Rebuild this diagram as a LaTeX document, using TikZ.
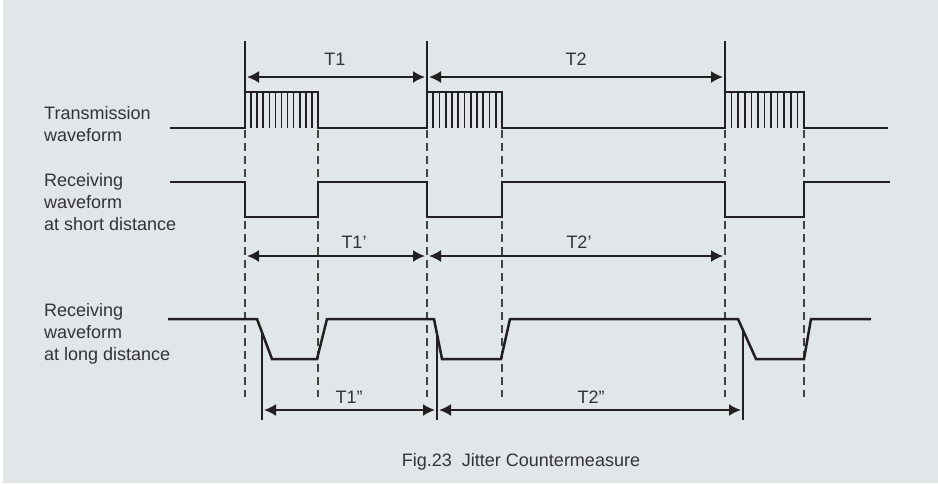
\documentclass[tikz,border=0pt]{standalone}
\usepackage{fontspec}
\setmainfont{Liberation Sans}
\usetikzlibrary{arrows.meta}
\definecolor{bgcol}{HTML}{E1E6E9}
\definecolor{ink}{HTML}{231F20}
\definecolor{txt}{HTML}{333333}
\begin{document}
\begin{tikzpicture}[x=1pt,y=-1pt]
\tikzset{>={Latex[length=12pt,width=12pt]}}
\tikzset{wave/.style={line width=2.5pt,color=ink,line join=miter},
  hatch/.style={line width=1.6pt,color=ink},
  guide/.style={line width=1.3pt,color=ink!85,dash pattern=on 8pt off 5pt},
  barline/.style={line width=2pt,color=ink},
  dimline/.style={<->,line width=2pt,color=ink,shorten <=2pt,shorten >=2pt},
  lbl/.style={text=txt,font=\fontsize{18}{22}\selectfont,inner sep=0pt},
  side/.style={lbl,align=left,anchor=base west}}
\useasboundingbox (0,0) rectangle (938,483);
\fill[bgcol] (3,0) rectangle (938,483);

% left labels (base = last line)
\node[side] (tx) at (44,141) {Transmission\\waveform};
\node[side] (rs) at (44,230) {Receiving\\waveform\\at short distance};
\node[side] (rl) at (44,360) {Receiving\\waveform\\at long distance};

% dashed guides
\foreach \x in {245,318,427,502,725,804}
\draw[guide] (\x,130) -- (\x,397);

% transmission waveform
\draw[wave] (170,128) -- (245,128) -- (245,92) -- (318,92) -- (318,128)
  -- (427,128) -- (427,92) -- (502,92) -- (502,128)
  -- (725,128) -- (725,92) -- (804,92) -- (804,128) -- (888,128);
\foreach \s/\e in {245/318,427/502,725/804}
\foreach \k in {1,...,11}
\draw[hatch] ({\s+\k*(\e-\s)/12},92) -- ++(0,36);

% receiving, short distance
\draw[wave] (170,182) -- (245,182) -- (245,217) -- (318,217) -- (318,182)
  -- (427,182) -- (427,217) -- (502,217) -- (502,182)
  -- (725,182) -- (725,217) -- (804,217) -- (804,182) -- (890,182);

% receiving, long distance
\draw[wave] (168,319) -- (257,319) -- (272,359) -- (317,359) -- (327,319)
  -- (434,319) -- (442,359) -- (501,359) -- (510,319)
  -- (738,319) -- (756,359) -- (804,359) -- (811,319) -- (871,319);

% T1, T2
\coordinate (A) at (245,77);
\coordinate (B) at (427,77);
\coordinate (C) at (725,77);
\draw[barline] (245,41) -- (245,92);
\draw[barline] (427,41) -- (427,92);
\draw[barline] (725,41) -- (725,92);
\draw[dimline] (A) -- (B);
\draw[dimline] (B) -- (C);
\node[lbl] (t1) at (335,59) {T1};
\node[lbl] (t2) at (576,59) {T2};

% T1', T2'
\coordinate (A') at (245,256);
\coordinate (B') at (427,256);
\coordinate (C') at (725,256);
\draw[dimline] (A') -- (B');
\draw[dimline] (B') -- (C');
\node[lbl] (t1p) at (354,242) {T1’};
\node[lbl] (t2p) at (579,242) {T2’};

% T1'', T2''
\coordinate (A'') at (262,410);
\coordinate (B'') at (437,410);
\coordinate (C'') at (743,410);
\draw[barline] (262,332) -- (262,420);
\draw[barline] (437,334) -- (437,420);
\draw[barline] (743,330) -- (743,420);
\draw[dimline] (A'') -- (B'');
\draw[dimline] (B'') -- (C'');
\node[lbl] (t1pp) at (349,397) {T1”};
\node[lbl] (t2pp) at (591,397) {T2”};

% caption
\node[lbl,anchor=base] (cap) at (521,466) {Fig.23\ \ Jitter Countermeasure};
\end{tikzpicture}
\end{document}
